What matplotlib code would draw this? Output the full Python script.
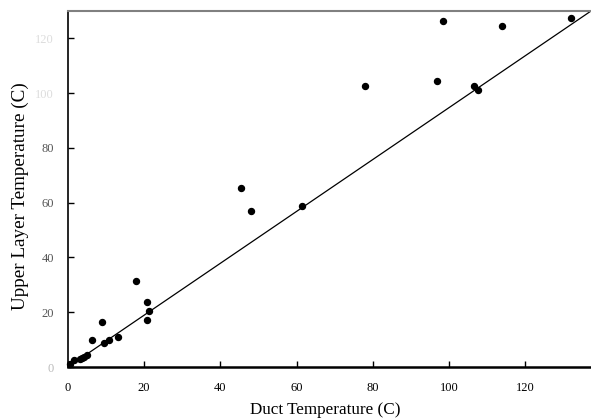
import matplotlib.pyplot as plt

duct = [0.5, 1.7, 3.1, 3.8, 4.3, 4.9, 6.3, 9.5, 10.8, 13.0, 9.0, 20.7, 21.3, 20.7, 17.9,
        45.4, 48.0, 61.4, 78.0, 96.9, 106.6, 107.6, 98.4, 113.9, 132.0]
upper = [1.0, 2.4, 3.0, 3.4, 3.7, 4.4, 9.9, 8.7, 9.9, 11.0, 16.3, 17.3, 20.3, 23.7, 31.3,
         65.5, 57.1, 58.9, 102.5, 104.4, 102.5, 101.1, 126.5, 124.4, 127.6]

x_ticks = [0, 20, 40, 60, 80, 100, 120]
y_ticks = [0, 20, 40, 60, 80, 100, 120]
y_tick_labels = ["0", "20", "40", "60", "80", "100", "120"]

xmax = 137.3
ymax = 130

plt.rcParams['font.family'] = ['Liberation Serif', 'DejaVu Serif']

fig = plt.figure(figsize=(5.91, 4.19), dpi=100)
ax = fig.add_axes([68 / 591, 52 / 419, 1 - 68 / 591, 356 / 419])

# corner-to-corner reference line
ax.plot([0, xmax], [0, ymax], color="black", lw=0.9)
ax.plot(duct, upper, "o", color="black", ms=4.3, clip_on=False)

ax.set_xlim(0, xmax)
ax.set_ylim(0, ymax)

ax.set_xticks(x_ticks)
ax.set_yticks(y_ticks)
ax.set_yticklabels(y_tick_labels)
ax.tick_params(axis="both", direction="in", length=4, width=1, labelsize=9)
ax.tick_params(axis="x", pad=11)
ax.tick_params(axis="y", pad=10)

for lbl, c in zip(ax.get_yticklabels(), ["#bbbbbb", "#555555", "#555555", "#555555", "#555555", "#dddddd", "#dddddd"]):
    lbl.set_color(c)

ax.spines["right"].set_visible(False)
ax.spines["bottom"].set_linewidth(1.8)
ax.spines["left"].set_linewidth(1.2)
ax.spines["top"].set_color("#808080")
ax.spines["top"].set_linewidth(1.5)

ax.set_xlabel("Duct Temperature (C)", fontsize=12.3)
ax.set_ylabel("Upper Layer Temperature (C)", fontsize=13.8)
ax.xaxis.set_label_coords(0.491, -0.098)
ax.yaxis.set_label_coords(-0.075, 0.48)

fig.savefig("out.png", dpi=100)
